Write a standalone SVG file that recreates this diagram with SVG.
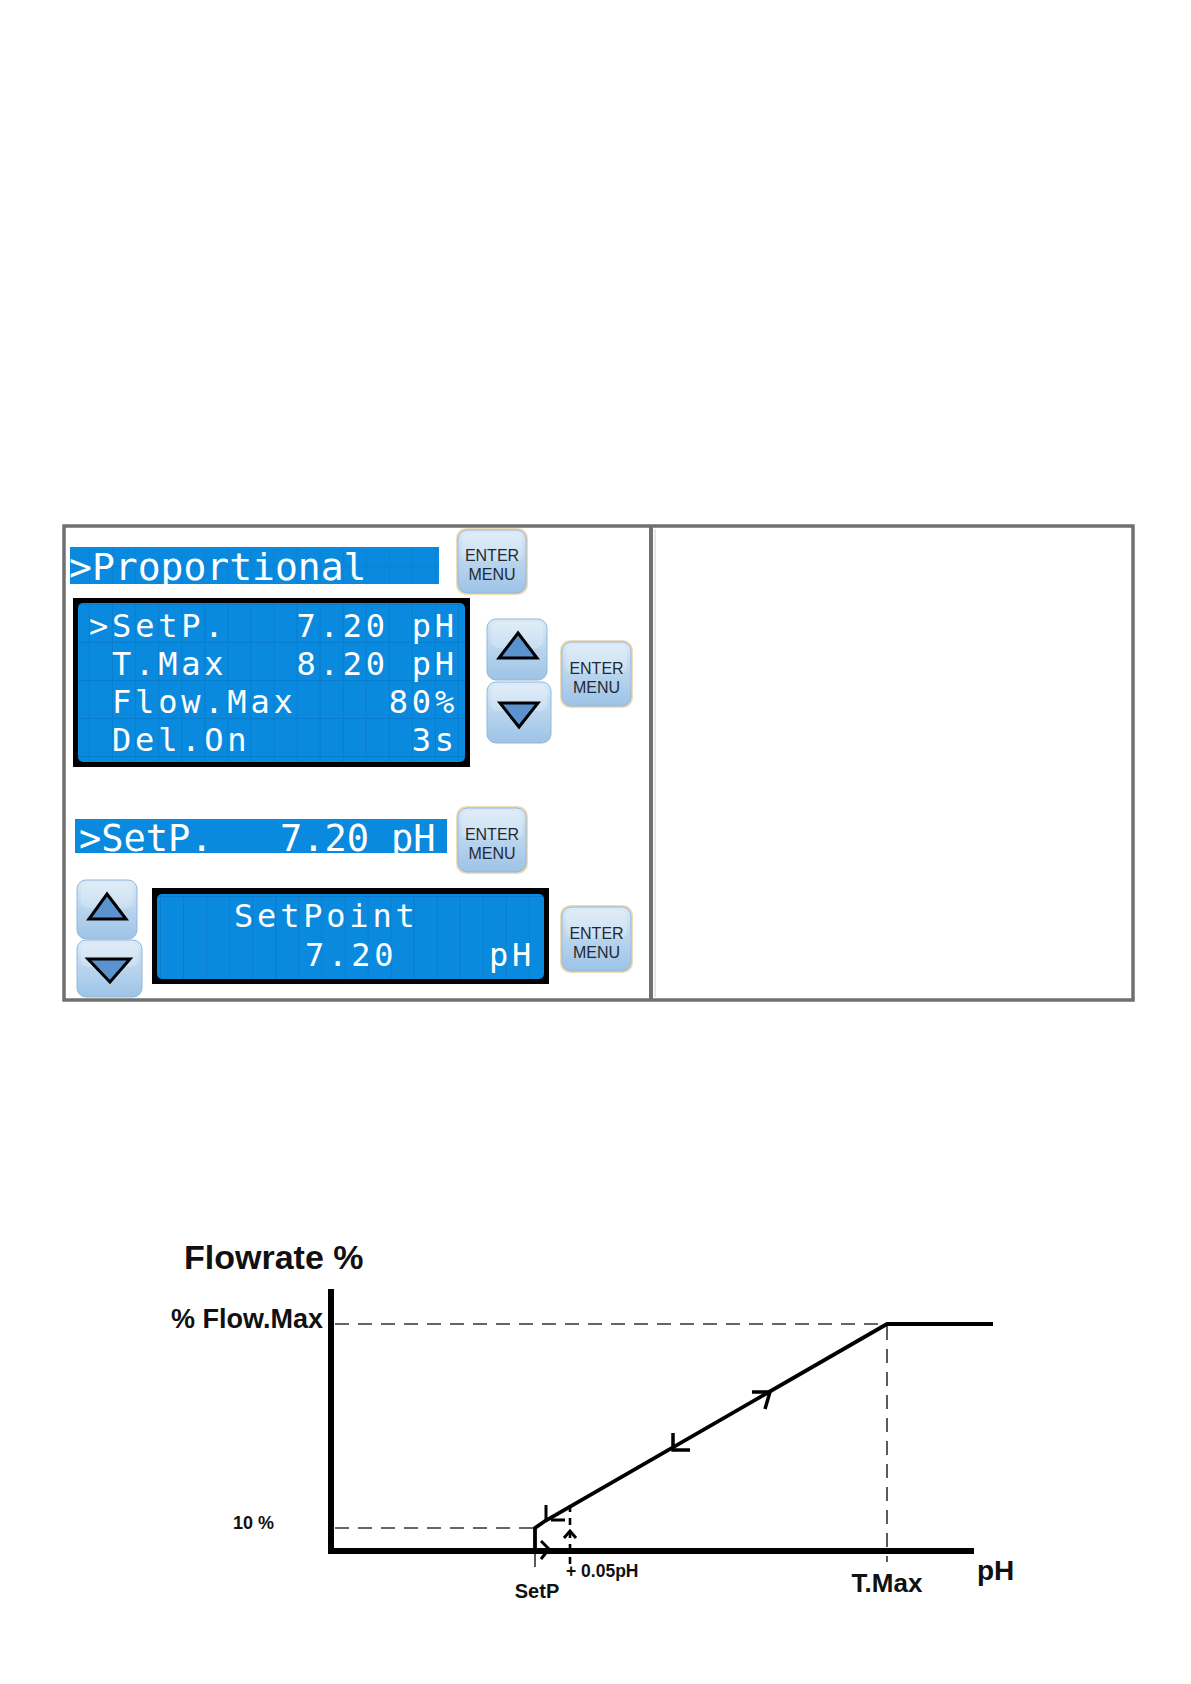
<svg xmlns="http://www.w3.org/2000/svg" width="1191" height="1684" viewBox="0 0 1191 1684">
  <style>
    .lcd { font-family: "DejaVu Sans Mono", "Liberation Mono", monospace; fill: #ffffff; font-size: 38px; }
    .lcds { font-family: "DejaVu Sans Mono", "Liberation Mono", monospace; fill: #ffffff; font-size: 32px; letter-spacing: 3.8px; }
    .btxt { font-family: "Liberation Sans", Arial, sans-serif; font-size: 16px; fill: #1f2a36; text-anchor: middle; }
    .ch { font-family: "Liberation Sans", Arial, sans-serif; font-weight: bold; fill: #111111; }
    .frame { fill: none; stroke: #707070; stroke-width: 3.5; }
    .blue { fill: #0a8ade; }
    .dash { fill: none; stroke: #333333; stroke-width: 1.6; stroke-dasharray: 14 9; }
    .solid { fill: none; stroke: #000000; stroke-linecap: butt; stroke-linejoin: miter; }
    .tri { fill: #5b93cf; stroke: #000000; stroke-width: 3; stroke-linejoin: miter; }
    .glow { fill: #efdcb6; }
    .btn { fill: url(#btnGrad); stroke: #93b6d8; stroke-width: 1; }
    .shine { fill: #ffffff; opacity: 0.22; }
  </style>
  <defs>
    <linearGradient id="btnGrad" x1="0" y1="0" x2="0" y2="1">
      <stop offset="0" stop-color="#dbeaf7"/>
      <stop offset="0.5" stop-color="#b9d5ee"/>
      <stop offset="1" stop-color="#9dc3e6"/>
    </linearGradient>
    <pattern id="cells" patternUnits="userSpaceOnUse" x="89" y="604" width="23.06" height="38">
      <path d="M0.5 0 V38 M0 0.5 H23.06" stroke="#0670bd" stroke-width="1" opacity="0.55" fill="none"/>
    </pattern>
    <pattern id="cells2" patternUnits="userSpaceOnUse" x="160" y="896" width="23.06" height="41">
      <path d="M0.5 0 V41 M0 0.5 H23.06" stroke="#0670bd" stroke-width="1" opacity="0.55" fill="none"/>
    </pattern>
  </defs>

  <rect width="1191" height="1684" fill="#ffffff"/>

  <!-- Table -->
  <g id="table">
    <rect class="frame" x="64" y="526" width="1069" height="474"/>
    <line x1="651" y1="526" x2="651" y2="1000" stroke="#707070" stroke-width="4"/>
    <line x1="655" y1="529" x2="655" y2="997" stroke="#d0d0d0" stroke-width="1"/>
  </g>

  <!-- Proportional bar -->
  <g id="bar-proportional">
    <rect class="blue" x="70" y="547" width="369" height="37"/>
    <rect x="70" y="547" width="369" height="37" fill="url(#cells)" opacity="0.6"/>
    <text class="lcd" x="69" y="580">&gt;Proportional</text>
  </g>

  <!-- Enter button 1 -->
  <g id="enter1">
    <rect class="glow" x="456" y="528" width="72" height="67" rx="10"/>
    <rect class="btn" x="458" y="530" width="68" height="63" rx="9"/>
    <rect class="shine" x="462" y="533" width="60" height="28" rx="7"/>
    <text class="btxt" x="492" y="561">ENTER</text>
    <text class="btxt" x="492" y="580">MENU</text>
  </g>

  <!-- Main LCD -->
  <g id="lcd-main">
    <rect x="73" y="598" width="397" height="169" fill="#000000"/>
    <rect class="blue" x="78" y="603" width="387" height="159" rx="5"/>
    <rect x="78" y="603" width="387" height="159" rx="5" fill="url(#cells)"/>
    <text class="lcds" y="637"><tspan x="89">&gt;SetP.</tspan><tspan x="296.5">7.20</tspan><tspan x="411.8">pH</tspan></text>
    <text class="lcds" y="675"><tspan x="112">T.Max</tspan><tspan x="296.5">8.20</tspan><tspan x="411.8">pH</tspan></text>
    <text class="lcds" y="713"><tspan x="112">Flow.Max</tspan><tspan x="388.8">80%</tspan></text>
    <text class="lcds" y="751"><tspan x="112">Del.On</tspan><tspan x="411.8">3s</tspan></text>
  </g>

  <!-- Up / Down buttons 1 -->
  <g id="up1">
    <rect class="btn" x="487" y="619" width="60" height="61" rx="9"/>
    <rect class="shine" x="491" y="622" width="52" height="26" rx="7"/>
    <polygon class="tri" points="518,633 537,658 499,658"/>
  </g>
  <g id="down1">
    <rect class="btn" x="487" y="682" width="64" height="61" rx="9"/>
    <rect class="shine" x="491" y="685" width="56" height="26" rx="7"/>
    <polygon class="tri" points="500,703 538,703 519,727"/>
  </g>

  <!-- Enter button 2 -->
  <g id="enter2">
    <rect class="glow" x="560" y="640" width="73" height="68" rx="10"/>
    <rect class="btn" x="562" y="642" width="69" height="64" rx="9"/>
    <rect class="shine" x="566" y="645" width="61" height="28" rx="7"/>
    <text class="btxt" x="596.5" y="674">ENTER</text>
    <text class="btxt" x="596.5" y="693">MENU</text>
  </g>

  <!-- SetP bar -->
  <g id="bar-setp">
    <rect class="blue" x="75" y="819" width="372" height="34"/>
    <text class="lcd" y="851" style="font-size:37px"><tspan x="79">&gt;SetP.</tspan><tspan x="280">7.20</tspan><tspan x="391">pH</tspan></text>
  </g>

  <!-- Enter button 3 -->
  <g id="enter3">
    <rect class="glow" x="456" y="806" width="72" height="68" rx="10"/>
    <rect class="btn" x="458" y="808" width="68" height="64" rx="9"/>
    <rect class="shine" x="462" y="811" width="60" height="28" rx="7"/>
    <text class="btxt" x="492" y="840">ENTER</text>
    <text class="btxt" x="492" y="859">MENU</text>
  </g>

  <!-- Up / Down buttons 2 -->
  <g id="up2">
    <rect class="btn" x="77" y="880" width="60" height="59" rx="9"/>
    <rect class="shine" x="81" y="883" width="52" height="25" rx="7"/>
    <polygon class="tri" points="107,894 126,919 89,919"/>
  </g>
  <g id="down2">
    <rect class="btn" x="77" y="940" width="65" height="57" rx="9"/>
    <rect class="shine" x="81" y="943" width="57" height="24" rx="7"/>
    <polygon class="tri" points="88,959 130,959 110,982"/>
  </g>

  <!-- SetPoint LCD -->
  <g id="lcd-setpoint">
    <rect x="152" y="888" width="397" height="96" fill="#000000"/>
    <rect class="blue" x="157" y="894" width="387" height="85" rx="5"/>
    <rect x="157" y="894" width="387" height="85" rx="5" fill="url(#cells2)"/>
    <text class="lcds" x="234" y="927">SetPoint</text>
    <text class="lcds" y="966"><tspan x="305">7.20</tspan><tspan x="489">pH</tspan></text>
  </g>

  <!-- Enter button 4 -->
  <g id="enter4">
    <rect class="glow" x="560" y="905" width="73" height="68" rx="10"/>
    <rect class="btn" x="562" y="907" width="69" height="64" rx="9"/>
    <rect class="shine" x="566" y="910" width="61" height="28" rx="7"/>
    <text class="btxt" x="596.5" y="939">ENTER</text>
    <text class="btxt" x="596.5" y="958">MENU</text>
  </g>

  <!-- Chart -->
  <g id="chart-labels">
    <text class="ch" x="184" y="1269" style="font-size:34px">Flowrate %</text>
    <text class="ch" x="323" y="1328" style="font-size:27px" text-anchor="end">% Flow.Max</text>
    <text class="ch" x="233" y="1529" style="font-size:18px">10 %</text>
    <text class="ch" x="537" y="1598" style="font-size:20px" text-anchor="middle">SetP</text>
    <text class="ch" x="566" y="1577" style="font-size:17.5px">+ 0.05pH</text>
    <text class="ch" x="887" y="1592" style="font-size:26px" text-anchor="middle">T.Max</text>
    <text class="ch" x="977" y="1580" style="font-size:28px">pH</text>
  </g>

  <g id="connectors">
    <!-- dashed guides -->
    <line class="dash" x1="335" y1="1324" x2="887" y2="1324"/>
    <line class="dash" x1="887" y1="1326" x2="887" y2="1562"/>
    <line class="dash" x1="335" y1="1528" x2="535" y2="1528"/>
    <line x1="570" y1="1505" x2="570" y2="1566" stroke="#000" stroke-width="2.6" stroke-dasharray="7 6"/>
    <!-- axes -->
    <line class="solid" x1="331" y1="1289" x2="331" y2="1554" stroke-width="6"/>
    <line class="solid" x1="328" y1="1551" x2="974" y2="1551" stroke-width="6"/>
    <!-- SetP tick -->
    <line x1="535" y1="1551" x2="535" y2="1567" stroke="#000" stroke-width="1.3"/>
    <!-- characteristic curve -->
    <polyline class="solid" points="535,1551 535,1528 545,1521 887,1324 993,1324" stroke-width="3.8"/>
    <!-- direction arrows -->
    <path class="solid" d="M752,1392 L770,1392 L765,1409" stroke-width="3.5"/>
    <path class="solid" d="M673,1433 L673,1450 L690,1450" stroke-width="3.5"/>
    <path class="solid" d="M546,1505 L546,1520 M551,1520 L565,1520" stroke-width="3"/>
    <path class="solid" d="M564,1538 L570,1531 L576,1538" stroke-width="3"/>
    <path class="solid" d="M541,1541 L549,1549 L541,1559" stroke-width="3"/>
  </g>
</svg>
